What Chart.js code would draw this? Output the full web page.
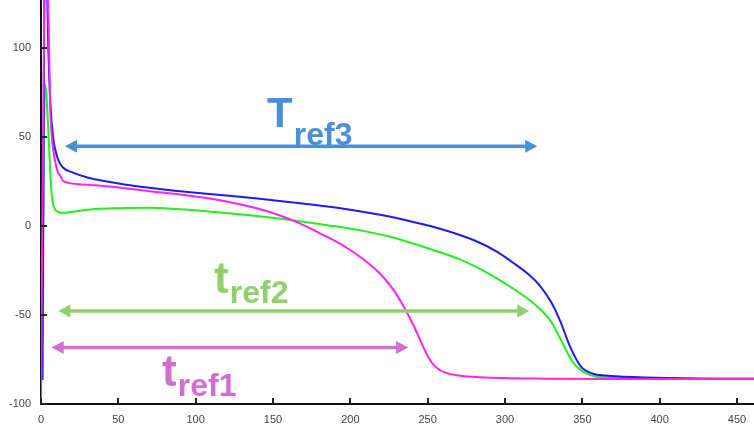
<!DOCTYPE html>
<html lang="en">
<head>
  <meta charset="UTF-8" />
  <title>Action potential refractory times</title>
  <style>
    html, body {
      margin: 0;
      padding: 0;
      background: #fff;
    }
    #wrap {
      width: 754px;
      height: 429px;
    }
  </style>
</head>
<body>
  <div id="wrap"><canvas id="apChart" width="754" height="429"></canvas></div>

  <script src="https://cdn.jsdelivr.net/npm/chart.js"></script>
  <script>
    // axis ticks
    const xTicks = [0, 50, 100, 150, 200, 250, 300, 350, 400, 450];
    const yTicks = [-100, -50, 0, 50, 100];

    // blue trace (Tref3)
    const blueX = [0, 1, 2.2, 3.5, 4.7, 6, 8, 9.5, 11.2, 14, 20.7, 30, 42.5, 55, 70, 85, 100, 120, 140, 160, 180, 200, 221, 240, 258, 280, 295, 305, 315, 323, 330, 336, 342, 349, 357, 365, 374, 390, 413, 440, 461];
    const blueY = [-86, -86, 140, 145, 101, 70, 48.5, 42, 37, 33, 30, 27.3, 25, 23.2, 21.5, 20, 18.7, 17.1, 15.4, 13.5, 11.5, 9.2, 6, 2.4, -1.5, -8, -14.5, -20.5, -27, -34, -43, -54, -67.6, -78.8, -83, -84, -84.6, -85.1, -85.6, -86, -86];

    // green trace (tref2)
    const greenX = [0, 0.6, 1.5, 2.6, 3.5, 4.7, 6, 7, 9, 11, 14.3, 20, 31.7, 50, 70, 90, 110, 135, 160, 185, 210, 230, 250, 270, 290, 305, 315, 323, 330, 336, 344, 353, 365, 400, 461];
    const greenY = [-75, -74, 10, 80, 74, 54, 30, 17, 9.5, 8, 7.4, 8, 9.3, 10, 10.2, 9.4, 8, 6, 3.5, 0.5, -3, -7, -12.5, -18.5, -27, -35, -41, -47, -54, -63.7, -76.6, -83, -85, -85.5, -85.5];

    // magenta trace (tref1)
    const magentaX = [0, 2.2, 3.5, 5, 5.8, 7, 9, 11, 12.3, 14.5, 25, 42.5, 70, 100, 120, 140, 155, 168, 182, 195, 208, 220, 228, 235, 241, 247, 252, 257, 262, 270, 284, 327, 380, 461];
    const magentaY = [-100, 135, 150, 110, 71, 50, 37, 30, 28.5, 25.2, 23.5, 22.3, 19.6, 16.6, 13.8, 9.8, 5.8, 1.2, -4.8, -10.8, -18.4, -27.5, -36, -46, -56, -67.6, -76, -80.5, -82.5, -84, -85, -85.8, -86, -86];

    // double arrows: start x, end x, level y (data units)
    const arrowX1 = [15.5, 11.2, 6.9];
    const arrowX2 = [320.8, 315.7, 237.4];
    const arrowY = [44.8, -47.8, -68.2];
    const arrowColors = ["#4a8fd8", "#8fd06a", "#d26fce"];

    // arrow labels
    const labelMain = ["T", "t", "t"];
    const labelSub = ["ref3", "ref2", "ref1"];
    const labelX = [146.2, 111.9, 78.3];
    const labelY = [55.8, -37.5, -90.1];

    function toPoints(xs, ys) {
      return xs.map((x, i) => ({ x: x, y: ys[i] }));
    }

    const innerTicks = {
      id: "innerTicks",
      afterDraw(chart) {
        const ctx = chart.ctx;
        const xs = chart.scales.x, ys = chart.scales.y;
        const area = chart.chartArea;
        ctx.save();
        ctx.strokeStyle = "#222";
        ctx.lineWidth = 2;
        ctx.beginPath();
        xTicks.forEach(v => {
          const px = Math.round(xs.getPixelForValue(v));
          ctx.moveTo(px, area.bottom);
          ctx.lineTo(px, area.bottom - 6);
        });
        yTicks.forEach(v => {
          const py = Math.round(ys.getPixelForValue(v));
          ctx.moveTo(area.left, py);
          ctx.lineTo(area.left + 6, py);
        });
        ctx.stroke();
        ctx.restore();
      }
    };

    const arrows = {
      id: "arrows",
      afterDatasetsDraw(chart) {
        const ctx = chart.ctx;
        const xs = chart.scales.x, ys = chart.scales.y;
        ctx.save();
        arrowY.forEach((yv, i) => {
          const x1 = xs.getPixelForValue(arrowX1[i]);
          const x2 = xs.getPixelForValue(arrowX2[i]);
          const py = ys.getPixelForValue(yv);
          ctx.strokeStyle = arrowColors[i];
          ctx.fillStyle = arrowColors[i];
          ctx.lineWidth = 3.5;
          ctx.beginPath();
          ctx.moveTo(x1 + 8, py);
          ctx.lineTo(x2 - 8, py);
          ctx.stroke();
          ctx.beginPath();
          ctx.moveTo(x1, py);
          ctx.lineTo(x1 + 12, py - 6.5);
          ctx.lineTo(x1 + 12, py + 6.5);
          ctx.closePath();
          ctx.moveTo(x2, py);
          ctx.lineTo(x2 - 12, py - 6.5);
          ctx.lineTo(x2 - 12, py + 6.5);
          ctx.closePath();
          ctx.fill();

          const lx = xs.getPixelForValue(labelX[i]);
          const ly = ys.getPixelForValue(labelY[i]);
          const big = labelMain[i] === "T" ? 42 : 44;
          ctx.textBaseline = "alphabetic";
          ctx.textAlign = "left";
          ctx.font = "bold " + big + "px 'Liberation Sans', Arial, sans-serif";
          ctx.fillText(labelMain[i], lx, ly);
          const w = ctx.measureText(labelMain[i]).width;
          ctx.font = "bold 32px 'Liberation Sans', Arial, sans-serif";
          const drop = labelMain[i] === "T" ? 18 : 10;
          ctx.fillText(labelSub[i], lx + w + 1, ly + drop);
        });
        ctx.restore();
      }
    };

    const ctx = document.getElementById("apChart").getContext("2d");
    const apChart = new Chart(ctx, {
      type: "line",
      data: {
        datasets: [
          {
            label: "tref1",
            data: toPoints(magentaX, magentaY),
            borderColor: "#ff22f0",
            borderWidth: 2,
            pointRadius: 0,
            cubicInterpolationMode: "monotone",
            fill: false
          },
          {
            label: "Tref3",
            data: toPoints(blueX, blueY),
            borderColor: "#1c1cf0",
            borderWidth: 2,
            pointRadius: 0,
            cubicInterpolationMode: "monotone",
            fill: false
          },
          {
            label: "tref2",
            data: toPoints(greenX, greenY),
            borderColor: "#22ee22",
            borderWidth: 2,
            pointRadius: 0,
            cubicInterpolationMode: "monotone",
            fill: false
          }
        ]
      },
      options: {
        responsive: false,
        animation: false,
        devicePixelRatio: 1,
        layout: { padding: 0 },
        plugins: {
          legend: { display: false },
          tooltip: { enabled: false }
        },
        scales: {
          x: {
            type: "linear",
            min: 0,
            max: 461,
            afterBuildTicks: s => { s.ticks = xTicks.map(v => ({ value: v })); },
            afterFit: s => { s.height = 25; s.paddingLeft = 0; s.paddingRight = 0; },
            grid: { display: false, drawTicks: false },
            border: { display: true, color: "#111", width: 2 },
            ticks: {
              padding: 9,
              color: "#444",
              maxRotation: 0,
              font: { family: "'Liberation Sans', Arial, sans-serif", size: 11 }
            }
          },
          y: {
            type: "linear",
            min: -100,
            max: 127,
            afterBuildTicks: s => { s.ticks = yTicks.map(v => ({ value: v })); },
            afterFit: s => { s.width = 41; s.paddingTop = 0; s.paddingBottom = 0; },
            grid: { display: false, drawTicks: false },
            border: { display: true, color: "#111", width: 2 },
            ticks: {
              padding: 10,
              color: "#444",
              font: { family: "'Liberation Sans', Arial, sans-serif", size: 11 }
            }
          }
        }
      },
      plugins: [arrows, innerTicks]
    });
  </script>
</body>
</html>
